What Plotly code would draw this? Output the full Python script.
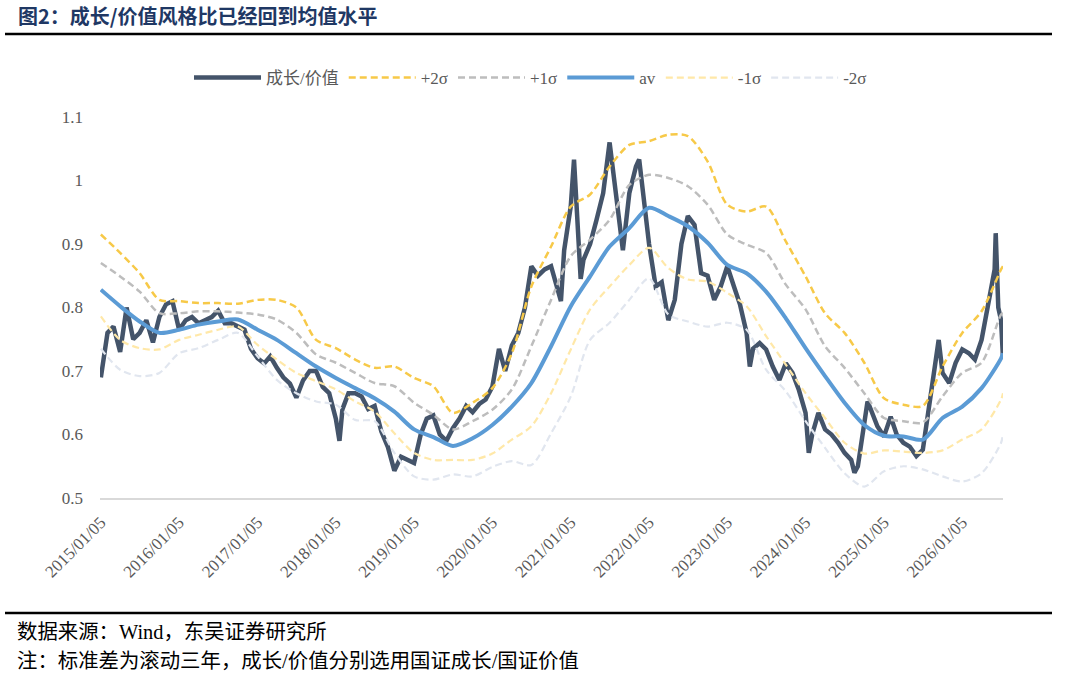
import plotly.graph_objects as go

# --- 成长/价值 (sampled from the chart, roughly monthly + a few spikes)
main_dates = [
    "2015-01-05", "2015-01-20", "2015-02-05", "2015-03-05", "2015-04-05", "2015-05-05", "2015-06-05",
    "2015-07-05", "2015-08-05", "2015-09-05", "2015-10-05", "2015-11-05", "2015-12-05",
    "2016-01-05", "2016-02-05", "2016-03-05", "2016-04-05", "2016-05-05", "2016-06-05",
    "2016-07-05", "2016-08-05", "2016-09-05", "2016-10-05", "2016-11-05", "2016-12-05",
    "2017-01-05", "2017-02-05", "2017-03-05", "2017-04-05", "2017-05-05", "2017-06-05",
    "2017-07-05", "2017-08-05", "2017-09-05", "2017-10-05", "2017-11-05", "2017-12-05",
    "2018-01-05", "2018-01-22", "2018-02-05", "2018-03-05", "2018-04-05", "2018-05-05", "2018-06-05",
    "2018-07-05", "2018-08-05", "2018-09-05", "2018-10-05", "2018-11-05", "2018-12-05",
    "2019-01-05", "2019-02-05", "2019-03-05", "2019-04-05", "2019-05-05", "2019-06-05",
    "2019-07-05", "2019-08-05", "2019-09-05", "2019-10-05", "2019-11-05", "2019-12-05",
    "2020-01-05", "2020-02-05", "2020-03-05", "2020-04-05", "2020-05-05", "2020-06-05",
    "2020-07-05", "2020-08-05", "2020-09-05", "2020-10-05", "2020-11-05", "2020-11-20", "2020-12-05",
    "2021-01-05", "2021-01-20", "2021-02-05", "2021-02-20", "2021-03-05", "2021-04-05", "2021-05-05",
    "2021-06-05", "2021-07-05", "2021-08-05", "2021-09-05", "2021-10-05", "2021-11-05", "2021-11-20",
    "2021-12-05",
    "2022-01-05", "2022-02-05", "2022-03-05", "2022-04-05", "2022-05-05", "2022-06-05",
    "2022-07-05", "2022-08-05", "2022-09-05", "2022-10-05", "2022-11-05", "2022-12-05",
    "2023-01-05", "2023-02-05", "2023-03-05", "2023-04-05", "2023-04-20", "2023-05-05", "2023-06-05",
    "2023-07-05", "2023-08-05", "2023-09-05", "2023-10-05", "2023-11-05", "2023-12-05",
    "2024-01-05", "2024-01-20", "2024-02-05", "2024-03-05", "2024-04-05", "2024-05-05", "2024-06-05",
    "2024-07-05", "2024-08-05", "2024-08-20", "2024-09-05", "2024-10-05", "2024-10-20", "2024-11-05",
    "2024-12-05",
    "2025-01-05", "2025-02-05", "2025-03-05", "2025-04-05", "2025-05-05", "2025-06-05",
    "2025-07-05", "2025-08-05", "2025-09-05", "2025-09-17", "2025-10-05", "2025-11-05", "2025-12-05",
    "2026-01-05", "2026-02-05", "2026-03-05", "2026-04-05", "2026-05-05", "2026-06-05",
    "2026-06-10", "2026-06-22", "2026-07-05", "2026-07-14",
]
main_vals = [
    0.690, 0.730, 0.760, 0.770, 0.730, 0.800, 0.750,
    0.760, 0.780, 0.745, 0.785, 0.805, 0.810,
    0.765, 0.780, 0.785, 0.775, 0.780, 0.785,
    0.795, 0.775, 0.775, 0.770, 0.765, 0.735,
    0.720, 0.712, 0.723, 0.705, 0.690, 0.680,
    0.658, 0.685, 0.700, 0.700, 0.675, 0.665,
    0.625, 0.590, 0.640, 0.665, 0.665, 0.660, 0.640,
    0.645, 0.605, 0.580, 0.543, 0.565, 0.560,
    0.555, 0.600, 0.625, 0.630, 0.600, 0.590,
    0.610, 0.625, 0.645, 0.635, 0.648, 0.655,
    0.675, 0.735, 0.700, 0.740, 0.760, 0.800,
    0.865, 0.850, 0.860, 0.865, 0.830, 0.810, 0.890,
    0.960, 1.033, 0.950, 0.845, 0.875, 0.900, 0.938,
    0.980, 1.060, 0.970, 0.890, 0.980, 1.022, 1.033,
    0.990,
    0.900, 0.833, 0.840, 0.780, 0.812, 0.900,
    0.944, 0.930, 0.854, 0.850, 0.812, 0.833,
    0.865, 0.833, 0.805, 0.760, 0.707, 0.735, 0.744,
    0.734, 0.707, 0.686, 0.712, 0.697, 0.670,
    0.634, 0.571, 0.600, 0.634, 0.608, 0.600, 0.587,
    0.571, 0.560, 0.540, 0.550, 0.623, 0.652, 0.639,
    0.613,
    0.597, 0.628, 0.600, 0.587, 0.581, 0.566,
    0.576, 0.644, 0.718, 0.749, 0.697, 0.681, 0.713,
    0.734, 0.728, 0.718, 0.749, 0.800, 0.860,
    0.917, 0.800, 0.780, 0.720,
]

# --- rolling mean and bands (quarterly reads)
band_dates = [
    "2015-01-05", "2015-04-05", "2015-07-05", "2015-10-05",
    "2016-01-05", "2016-04-05", "2016-07-05", "2016-10-05",
    "2017-01-05", "2017-04-05", "2017-07-05", "2017-10-05",
    "2018-01-05", "2018-04-05", "2018-07-05", "2018-10-05",
    "2019-01-05", "2019-04-05", "2019-07-05", "2019-10-05",
    "2020-01-05", "2020-04-05", "2020-07-05", "2020-10-05",
    "2021-01-05", "2021-04-05", "2021-07-05", "2021-10-05",
    "2022-01-05", "2022-04-05", "2022-07-05", "2022-10-05",
    "2023-01-05", "2023-04-05", "2023-07-05", "2023-10-05",
    "2024-01-05", "2024-04-05", "2024-07-05", "2024-10-05",
    "2025-01-05", "2025-04-05", "2025-07-05", "2025-10-05",
    "2026-01-05", "2026-04-05", "2026-07-05", "2026-07-14",
]
plus2 = [
    0.915, 0.886, 0.854, 0.812, 0.810, 0.807, 0.807, 0.806,
    0.812, 0.812, 0.800, 0.749, 0.736, 0.718, 0.705, 0.707,
    0.689, 0.676, 0.634, 0.650, 0.673, 0.728, 0.833, 0.896,
    0.959, 0.978, 1.022, 1.056, 1.062, 1.072, 1.070, 1.030,
    0.962, 0.951, 0.959, 0.904, 0.849, 0.791, 0.760, 0.713,
    0.657, 0.647, 0.645, 0.707, 0.760, 0.794, 0.860, 0.865,
]
plus1 = [
    0.870, 0.849, 0.825, 0.791, 0.791, 0.794, 0.794, 0.792,
    0.789, 0.781, 0.760, 0.726, 0.713, 0.697, 0.681, 0.676,
    0.650, 0.631, 0.608, 0.621, 0.639, 0.671, 0.739, 0.812,
    0.881, 0.907, 0.938, 0.993, 1.009, 1.004, 0.991, 0.962,
    0.915, 0.899, 0.886, 0.836, 0.797, 0.739, 0.705, 0.665,
    0.626, 0.621, 0.619, 0.660, 0.697, 0.713, 0.789, 0.791,
]
av = [
    0.828, 0.802, 0.778, 0.760, 0.765, 0.773, 0.778, 0.781,
    0.765, 0.749, 0.728, 0.707, 0.689, 0.673, 0.657, 0.636,
    0.608, 0.596, 0.582, 0.594, 0.615, 0.644, 0.681, 0.739,
    0.802, 0.849, 0.896, 0.925, 0.957, 0.944, 0.928, 0.902,
    0.867, 0.854, 0.825, 0.783, 0.736, 0.692, 0.650, 0.615,
    0.598, 0.597, 0.592, 0.626, 0.644, 0.673, 0.720, 0.728,
]
minus1 = [
    0.786, 0.749, 0.736, 0.734, 0.749, 0.757, 0.765, 0.770,
    0.741, 0.718, 0.697, 0.684, 0.671, 0.652, 0.636, 0.602,
    0.571, 0.560, 0.560, 0.560, 0.570, 0.592, 0.613, 0.665,
    0.734, 0.797, 0.833, 0.867, 0.894, 0.862, 0.844, 0.841,
    0.823, 0.802, 0.755, 0.710, 0.665, 0.626, 0.587, 0.570,
    0.575, 0.573, 0.571, 0.575, 0.592, 0.608, 0.655, 0.665,
]
minus2 = [
    0.735, 0.702, 0.692, 0.697, 0.728, 0.736, 0.749, 0.760,
    0.723, 0.686, 0.665, 0.652, 0.647, 0.623, 0.621, 0.571,
    0.534, 0.529, 0.537, 0.534, 0.549, 0.558, 0.552, 0.602,
    0.660, 0.749, 0.776, 0.812, 0.846, 0.789, 0.778, 0.770,
    0.776, 0.765, 0.702, 0.668, 0.621, 0.579, 0.539, 0.518,
    0.542, 0.550, 0.545, 0.534, 0.526, 0.539, 0.587, 0.602,
]

tick_dates = ["%d-01-05" % y for y in range(2015, 2027)]
tick_text = ["%d/01/05" % y for y in range(2015, 2027)]

SERIF = "Liberation Serif, Noto Sans CJK SC"
CJK = "Noto Sans CJK SC"
GREY = "#595959"

fig = go.Figure()
fig.add_trace(go.Scatter(x=main_dates, y=main_vals, mode="lines", name="成长/价值",
                         line=dict(color="#44546A", width=4.5)))
bands = [
    ("+2σ", plus2, "#F7C948", 2.5, "7px,4px"),
    ("+1σ", plus1, "#BDBDBD", 2.5, "7px,4px"),
    ("av", av, "#5B9BD5", 4, "solid"),
    ("-1σ", minus1, "#FFE8A8", 2.2, "7px,4px"),
    ("-2σ", minus2, "#E1E6EF", 2.2, "7px,4px"),
]
for name, vals, col, w, dash in bands:
    fig.add_trace(go.Scatter(x=band_dates, y=vals, mode="lines", name=name,
                             line=dict(color=col, width=w, dash=dash, shape="spline", smoothing=0.8)))

# paper helpers take window pixels: plot area spans x 100..1003, y 117..498
def px_x(p):
    return (p - 100) / 903.0

def px_y(p):
    return (498 - p) / 381.0

W, H = 1080, 676

fig.update_layout(
    width=W, height=H,
    margin=dict(l=100, r=77, t=117, b=178),
    paper_bgcolor="white", plot_bgcolor="white",
    title=dict(text="<b>图2：成长/价值风格比已经回到均值水平</b>",
               x=18 / W, y=1 - 16.5 / H, xanchor="left", yanchor="middle",
               font=dict(family=CJK, size=20, color="#1F3864")),
    showlegend=True,
    legend=dict(orientation="h", x=px_x(189), y=px_y(78), xanchor="left", yanchor="middle",
                font=dict(family=SERIF, size=17, color=GREY),
                itemwidth=67, bgcolor="rgba(0,0,0,0)"),
    xaxis=dict(type="date", range=["2015-01-01", "2026-07-14"],
               tickvals=tick_dates, ticktext=tick_text, tickangle=-45,
               showgrid=False, zeroline=False, showline=True, linecolor="#D9D9D9", linewidth=1.5,
               ticks="", tickfont=dict(family=SERIF, size=17, color=GREY), ticklabelstandoff=6),
    yaxis=dict(range=[0.5, 1.1], tickvals=[0.5, 0.6, 0.7, 0.8, 0.9, 1.0, 1.1],
               ticktext=["0.5", "0.6", "0.7", "0.8", "0.9", "1", "1.1"],
               showgrid=False, zeroline=False, showline=False,
               ticks="", tickfont=dict(family=SERIF, size=17, color=GREY), ticklabelstandoff=16),
)

# rules under the title and above the notes
fig.add_shape(type="line", xref="paper", yref="paper", x0=px_x(5), x1=px_x(1052),
              y0=px_y(34), y1=px_y(34), line=dict(color="black", width=2.5))
fig.add_shape(type="line", xref="paper", yref="paper", x0=px_x(5), x1=px_x(1052),
              y0=px_y(613), y1=px_y(613), line=dict(color="black", width=2.5))

NOTE_FONT = dict(family="Liberation Serif, Noto Sans CJK SC", size=20.4, color="black")
fig.add_annotation(text="数据来源：Wind，东吴证券研究所", xref="paper", yref="paper",
                   x=px_x(15), y=px_y(632), xanchor="left", yanchor="middle", showarrow=False,
                   font=NOTE_FONT)
fig.add_annotation(text="注：标准差为滚动三年，成长/价值分别选用国证成长/国证价值", xref="paper", yref="paper",
                   x=px_x(15), y=px_y(661), xanchor="left", yanchor="middle", showarrow=False,
                   font=NOTE_FONT)

# drop the default 8px body margin so the figure fills the window exactly; no toolbar
fig.write_html("out.html", config={"displayModeBar": False},
               post_script="document.body.style.margin='0';")
